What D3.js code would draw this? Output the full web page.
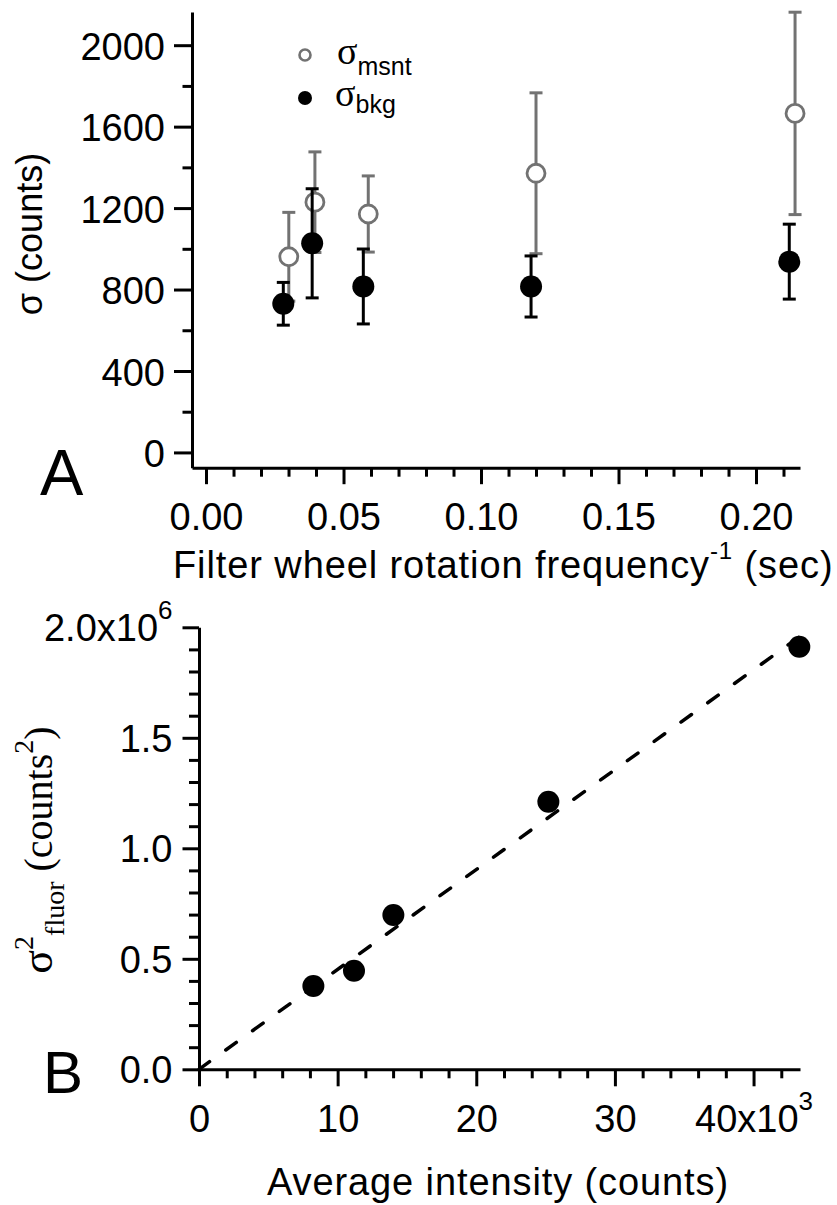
<!DOCTYPE html>
<html>
<head>
<meta charset="utf-8">
<script src="https://cdn.jsdelivr.net/npm/d3@7"></script>
<style>
  html, body { margin: 0; padding: 0; background: #fff; }
  svg { display: block; }
</style>
</head>
<body>
<script>
// ---------------- DATA ----------------
// Panel A: sigma vs filter wheel rotation period
const msntPeriod = [0.0301, 0.0396, 0.059, 0.120, 0.2142];
const msntSigma  = [961, 1229, 1171, 1371, 1665];
const msntErr    = [218, 247, 187, 395, 497];

const bkgPeriod  = [0.0281, 0.0386, 0.0572, 0.1182, 0.2121];
const bkgSigma   = [730, 1027, 815, 815, 937];
const bkgErr     = [105, 268, 184, 150, 184];

const aXTicks = [0, 0.05, 0.10, 0.15, 0.20];
const aXTickLabels = ["0.00", "0.05", "0.10", "0.15", "0.20"];
const aXMinor = [0.01,0.02,0.03,0.04,0.06,0.07,0.08,0.09,0.11,0.12,0.13,0.14,0.16,0.17,0.18,0.19,0.21];
const aYTicks = [0, 400, 800, 1200, 1600, 2000];
const aYMinor = [200, 600, 1000, 1400, 1800];

// Panel B: fluorescence variance vs average intensity
const intensity  = [8.25, 11.18, 14.02, 25.2, 43.3];    // x10^3 counts
const varFluor   = [0.377, 0.446, 0.698, 1.211, 1.912]; // x10^6 counts^2
const varErr     = [0, 0, 0, 0, 0.03];
const fitX = [0, 43.3];
const fitY = [0, 1.957];

const bXTicks = [0, 10, 20, 30, 40];
const bXMinor = [2,4,6,8,12,14,16,18,22,24,26,28,32,34,36,38,42];
const bYTicks = [0, 0.5, 1.0, 1.5, 2.0];
const bYMinor = [0.1,0.2,0.3,0.4,0.6,0.7,0.8,0.9,1.1,1.2,1.3,1.4,1.6,1.7,1.8,1.9];

// ---------------- STYLE ----------------
const SANS = '"Liberation Sans", Arial, Helvetica, sans-serif';
const SERIF = '"Liberation Serif", "Times New Roman", serif';
const GRAY = "#727272";

const svg = d3.select("body").append("svg")
  .attr("width", 837).attr("height", 1205);

function styleAxis(g) {
  g.selectAll("path.domain").attr("stroke", "#000").attr("stroke-width", 3);
  g.selectAll(".tick line").attr("stroke", "#000").attr("stroke-width", 3);
  g.selectAll(".tick text").attr("fill", "#000")
    .style("font-family", SANS).style("font-size", "38px");
}

// ================= PANEL A =================
const xA = d3.scaleLinear().domain([-0.0051, 0.2160]).range([192, 800]);
const yA = d3.scaleLinear().domain([-75, 2163]).range([467.7, 12]);

const gAy = svg.append("g").attr("transform", `translate(${xA.range()[0]},0)`)
  .call(d3.axisLeft(yA).tickValues(aYTicks).tickSize(18).tickPadding(9).tickSizeOuter(0)
        .tickFormat(d3.format("d")));
styleAxis(gAy);
gAy.selectAll(".tick text").attr("dy", "0.37em");
const gAyMin = svg.append("g").attr("transform", `translate(${xA.range()[0]},0)`)
  .call(d3.axisLeft(yA).tickValues(aYMinor).tickSize(9.5).tickFormat(""));
gAyMin.select("path.domain").remove();
styleAxis(gAyMin);

const gAx = svg.append("g").attr("transform", `translate(0,${yA.range()[0]})`)
  .call(d3.axisBottom(xA).tickValues(aXTicks).tickSize(16.5).tickPadding(19).tickSizeOuter(0)
        .tickFormat((d, i) => aXTickLabels[i]));
styleAxis(gAx);
const gAxMin = svg.append("g").attr("transform", `translate(0,${yA.range()[0]})`)
  .call(d3.axisBottom(xA).tickValues(aXMinor).tickSize(9).tickFormat(""));
gAxMin.select("path.domain").remove();
styleAxis(gAxMin);

// error bars + markers: msnt (gray, open) first
function errorBars(g, xs, ys, es, xScale, yScale, color, cap) {
  const d = xs.map((x, i) => ({x, y: ys[i], e: es[i]})).filter(p => p.e > 0);
  g.selectAll(null).data(d).enter().append("line")
    .attr("x1", p => xScale(p.x)).attr("x2", p => xScale(p.x))
    .attr("y1", p => yScale(p.y - p.e)).attr("y2", p => yScale(p.y + p.e))
    .attr("stroke", color).attr("stroke-width", 3);
  if (cap > 0) {
    ["lo", "hi"].forEach(k => {
      g.selectAll(null).data(d).enter().append("line")
        .attr("x1", p => xScale(p.x) - cap).attr("x2", p => xScale(p.x) + cap)
        .attr("y1", p => yScale(k === "lo" ? p.y - p.e : p.y + p.e))
        .attr("y2", p => yScale(k === "lo" ? p.y - p.e : p.y + p.e))
        .attr("stroke", color).attr("stroke-width", 3);
    });
  }
}

const gA = svg.append("g");
errorBars(gA, msntPeriod, msntSigma, msntErr, xA, yA, GRAY, 6.5);
gA.selectAll("circle.msnt").data(msntPeriod).enter().append("circle")
  .attr("class", "msnt")
  .attr("cx", (d) => xA(d)).attr("cy", (d, i) => yA(msntSigma[i]))
  .attr("r", 9).attr("fill", "#fff").attr("stroke", GRAY).attr("stroke-width", 2.8);
errorBars(gA, bkgPeriod, bkgSigma, bkgErr, xA, yA, "#000", 6.5);
gA.selectAll("circle.bkg").data(bkgPeriod).enter().append("circle")
  .attr("class", "bkg")
  .attr("cx", (d) => xA(d)).attr("cy", (d, i) => yA(bkgSigma[i]))
  .attr("r", 11).attr("fill", "#000");

// legend
svg.append("circle").attr("cx", 305).attr("cy", 55).attr("r", 5.5)
  .attr("fill", "#fff").attr("stroke", GRAY).attr("stroke-width", 2.6);
svg.append("circle").attr("cx", 305).attr("cy", 98).attr("r", 7).attr("fill", "#000");
const l1 = svg.append("text").attr("x", 337).attr("y", 64);
l1.append("tspan").text("σ").style("font-family", SERIF).style("font-size", "38px");
l1.append("tspan").attr("dy", 11).text("msnt").style("font-family", SANS).style("font-size", "25px");
const l2 = svg.append("text").attr("x", 335).attr("y", 106);
l2.append("tspan").text("σ").style("font-family", SERIF).style("font-size", "38px");
l2.append("tspan").attr("dy", 7).text("bkg").style("font-family", SANS).style("font-size", "25px");

// axis titles A
const tAy = svg.append("text").attr("transform", "translate(42,234) rotate(-90)")
  .attr("text-anchor", "middle").style("font-family", SANS).style("font-size", "36px");
tAy.append("tspan").text("σ (counts)");

const tAx = svg.append("text").attr("x", 173).attr("y", 578)
  .style("font-family", SANS).style("font-size", "38px").style("letter-spacing", "0.9px");
tAx.append("tspan").text("Filter wheel rotation frequency");
tAx.append("tspan").attr("dy", -19).style("font-size", "24px").text("-1");
tAx.append("tspan").attr("dy", 19).text(" (sec)");

svg.append("text").attr("x", 40).attr("y", 495)
  .style("font-family", SANS).style("font-size", "65px").text("A");

// ================= PANEL B =================
const xB = d3.scaleLinear().domain([0, 43.35]).range([199, 800]);
const yB = d3.scaleLinear().domain([0, 2.0]).range([1069.3, 627.3]);

const gBy = svg.append("g").attr("transform", `translate(${xB.range()[0]},0)`)
  .call(d3.axisLeft(yB).tickValues(bYTicks).tickSize(16.5).tickPadding(10).tickSizeOuter(0)
        .tickFormat(d3.format(".1f")));
styleAxis(gBy);
gBy.selectAll(".tick text").attr("dy", "0.35em");
const gByMin = svg.append("g").attr("transform", `translate(${xB.range()[0]},0)`)
  .call(d3.axisLeft(yB).tickValues(bYMinor).tickSize(10).tickFormat(""));
gByMin.select("path.domain").remove();
styleAxis(gByMin);

const gBx = svg.append("g").attr("transform", `translate(0,${yB.range()[0]})`)
  .call(d3.axisBottom(xB).tickValues(bXTicks).tickSize(17).tickPadding(19).tickSizeOuter(0)
        .tickFormat(d3.format("d")));
styleAxis(gBx);
const gBxMin = svg.append("g").attr("transform", `translate(0,${yB.range()[0]})`)
  .call(d3.axisBottom(xB).tickValues(bXMinor).tickSize(9).tickFormat(""));
gBxMin.select("path.domain").remove();
styleAxis(gBxMin);

// exponent labels on last ticks
function expLabel(textSel, base, exp, shift) {
  textSel.text(null);
  textSel.append("tspan").text(base);
  textSel.append("tspan").attr("dy", -shift).style("font-size", "26px").text(exp);
}
gBx.selectAll(".tick text").filter(d => d === 40).each(function() {
  expLabel(d3.select(this), "40x10", "3", 22);
});
gBy.selectAll(".tick text").filter(d => d === 2.0).each(function() {
  expLabel(d3.select(this), "2.0x10", "6", 22);
});

// fit line
svg.append("path")
  .datum(fitX.map((x, i) => [x, fitY[i]]))
  .attr("d", d3.line().x(d => xB(d[0])).y(d => yB(d[1])))
  .attr("fill", "none").attr("stroke", "#000").attr("stroke-width", 3.5)
  .attr("stroke-dasharray", "13,20").attr("stroke-linecap", "round");

const gB = svg.append("g");
errorBars(gB, intensity, varFluor, varErr, xB, yB, "#000", 0);
gB.selectAll("circle").data(intensity).enter().append("circle")
  .attr("cx", d => xB(d)).attr("cy", (d, i) => yB(varFluor[i]))
  .attr("r", 11).attr("fill", "#000");

// axis titles B
const tBy = svg.append("text").attr("transform", "translate(52,850) rotate(-90)")
  .attr("text-anchor", "middle").style("font-family", SERIF).style("font-size", "40px");
tBy.append("tspan").style("font-size", "44px").text("σ");
tBy.append("tspan").attr("dy", -19).style("font-size", "28px").text("2");
tBy.append("tspan").attr("dy", 31).style("font-size", "28px").text("fluor");
tBy.append("tspan").attr("dy", -12).text(" (counts");
tBy.append("tspan").attr("dy", -19).style("font-size", "28px").text("2");
tBy.append("tspan").attr("dy", 19).text(")");

svg.append("text").attr("x", 267).attr("y", 1195)
  .style("font-family", SANS).style("font-size", "38px").style("letter-spacing", "0.9px")
  .text("Average intensity (counts)");

svg.append("text").attr("x", 43).attr("y", 1093)
  .style("font-family", SANS).style("font-size", "60px").text("B");
</script>
</body>
</html>
